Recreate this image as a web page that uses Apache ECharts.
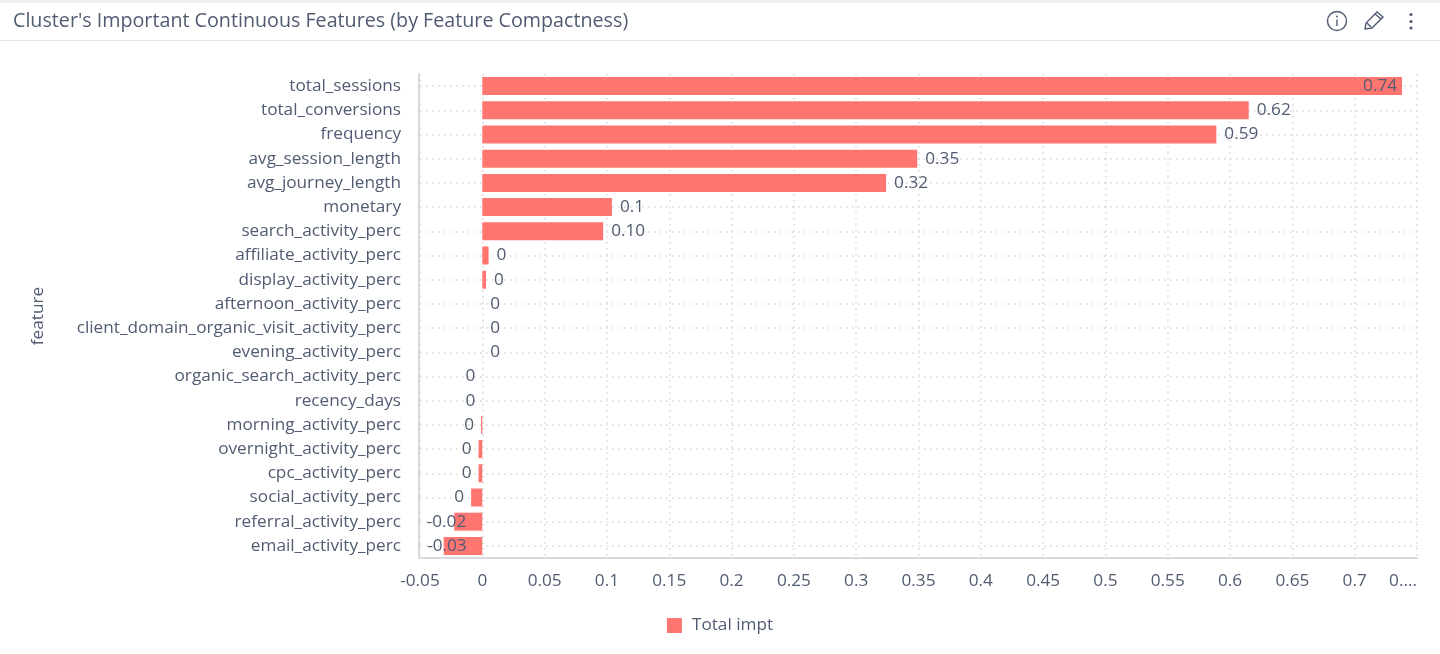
<!DOCTYPE html>
<html><head><meta charset="utf-8">
<style>html,body{margin:0;padding:0;background:#fff;overflow:hidden}#c{width:1440px;height:654px}</style>
<script src="https://cdn.jsdelivr.net/npm/echarts@6/dist/echarts.min.js"></script>
</head><body><div id="c"></div>
<script>
const categories = ["total_sessions","total_conversions","frequency","avg_session_length","avg_journey_length","monetary","search_activity_perc","affiliate_activity_perc","display_activity_perc","afternoon_activity_perc","client_domain_organic_visit_activity_perc","evening_activity_perc","organic_search_activity_perc","recency_days","morning_activity_perc","overnight_activity_perc","cpc_activity_perc","social_activity_perc","referral_activity_perc","email_activity_perc"];
const values = [0.738,0.615,0.589,0.349,0.324,0.104,0.097,0.005,0.003,0.00005,0.00005,0.00005,-0.00005,-0.00005,-0.001,-0.003,-0.003,-0.009,-0.0225,-0.031];
const valueLabels = ["0.74","0.62","0.59","0.35","0.32","0.1","0.10","0","0","0","0","0","0","0","0","0","0","0","-0.02","-0.03"];
const seriesName = "Total impt";
const titleText = "Cluster's Important Continuous Features (by Feature Compactness)";
const textColor = "#515c72", barColor = "#ff7570", font = "Open Sans";

function labelFor(i){
  if (i === 0) return {position:"insideRight", distance:5};
  if (i === 18) return {position:"left", distance:5, offset:[17,0]};
  if (i === 19) return {position:"left", distance:5, offset:[28,0]};
  return values[i] < 0 ? {position:"left", distance:7} : {position:"right", distance:8};
}
const chart = echarts.init(document.getElementById("c"), null, {renderer:"canvas"});
chart.setOption({
  animation:false,
  backgroundColor:"#fff",
  textStyle:{fontFamily:font,color:textColor},
  title:{text:titleText,left:13,top:11,padding:0,textStyle:{fontFamily:font,fontSize:19.7,fontWeight:"normal",color:textColor}},
  legend:{bottom:15,left:"center",itemWidth:15,itemHeight:15,itemGap:10,icon:"rect",data:[seriesName],
    textStyle:{fontFamily:font,fontSize:17.2,color:textColor,padding:[2,0,0,5]}},
  grid:{left:420,right:23,top:74,bottom:96,containLabel:false},
  xAxis:{type:"value",min:-0.05,max:0.75,interval:0.05,
    axisLine:{show:true,onZero:false,lineStyle:{color:"#d9dae0",width:2}},
    axisTick:{show:false},
    splitLine:{show:true,lineStyle:{type:[1.5,4.5],color:"#d5d6dc",width:1.5}},
    axisLabel:{fontFamily:font,fontSize:17.2,color:textColor,margin:15,alignMaxLabel:"right",
      formatter:v=>Math.abs(v-0.75)<1e-9?"0....":String(+v.toFixed(2))}},
  yAxis:{type:"category",inverse:true,data:categories,name:"feature",nameLocation:"middle",nameGap:372,offset:1,
    nameTextStyle:{fontFamily:font,fontSize:17.2,color:textColor},
    axisLine:{show:true,onZero:false,lineStyle:{color:"#d9dae0",width:2}},
    axisTick:{show:false},
    splitLine:{show:true,alignWithLabel:true,lineStyle:{type:[1.5,4.5],color:"#d5d6dc",width:1.5}},
    axisLabel:{fontFamily:font,fontSize:17.2,color:textColor,margin:18}},
  series:[{type:"bar",name:seriesName,barWidth:18,itemStyle:{color:barColor},
    label:{show:true,fontFamily:font,fontSize:17.2,color:textColor},
    data:values.map((v,i)=>({value:v,label:Object.assign({formatter:valueLabels[i]},labelFor(i))}))}],
  graphic:[
    {type:"rect",shape:{x:0,y:0,width:1440,height:3},style:{fill:"#f1f1f3"},silent:true},
    {type:"rect",shape:{x:0,y:40,width:1440,height:1},style:{fill:"#e6e7ea"},silent:true},
    {type:"circle",shape:{cx:1337,cy:21,r:9.5},style:{fill:"none",stroke:textColor,lineWidth:1.4},silent:true},
    {type:"rect",shape:{x:1336.3,y:19.5,width:1.4,height:6.5},style:{fill:textColor},silent:true},
    {type:"circle",shape:{cx:1337,cy:16.5,r:1},style:{fill:textColor},silent:true},
    {type:"polygon",shape:{points:[[1365,29],[1366,23],[1377,12],[1383,17],[1372,28]]},style:{fill:"none",stroke:textColor,lineWidth:1.4},silent:true},
    {type:"line",shape:{x1:1375,y1:14,x2:1381,y2:19},style:{stroke:textColor,lineWidth:1.4},silent:true},
    {type:"line",shape:{x1:1367,y1:23,x2:1371,y2:27},style:{stroke:textColor,lineWidth:1.4},silent:true},
    {type:"circle",shape:{cx:1411,cy:14.5,r:1.6},style:{fill:textColor},silent:true},
    {type:"circle",shape:{cx:1411,cy:21.5,r:1.6},style:{fill:textColor},silent:true},
    {type:"circle",shape:{cx:1411,cy:28,r:1.6},style:{fill:textColor},silent:true}
  ]
});
</script></body></html>
